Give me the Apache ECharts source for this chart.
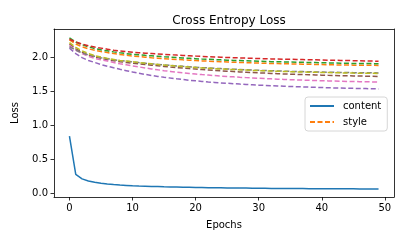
<!DOCTYPE html>
<html><head><meta charset="utf-8">
<script src="https://cdn.jsdelivr.net/npm/echarts@6/dist/echarts.min.js"></script>
<style>html,body{margin:0;padding:0;background:#fff}#c{width:407px;height:244px}</style>
</head><body><div id="c"></div>
<script>
const epochs = [0,1,2,3,4,5,6,7,8,9,10,11,12,13,14,15,16,17,18,19,20,21,22,23,24,25,26,27,28,29,30,31,32,33,34,35,36,37,38,39,40,41,42,43,44,45,46,47,48,49];
const xTicks = [0,10,20,30,40,50];
const yTicks = [0,0.5,1,1.5,2];
const content = [0.84,0.28,0.215,0.185,0.165,0.15,0.14,0.132,0.125,0.12,0.115,0.111,0.108,0.105,0.102,0.099,0.097,0.095,0.093,0.091,0.089,0.088,0.086,0.085,0.084,0.083,0.082,0.081,0.080,0.079,0.078,0.077,0.076,0.076,0.075,0.074,0.074,0.073,0.072,0.072,0.071,0.071,0.070,0.070,0.069,0.069,0.068,0.068,0.067,0.067];
const style = [2.25,2.19,2.15,2.12,2.10,2.08,2.065,2.05,2.037,2.025,2.015,2.006,1.998,1.99,1.983,1.976,1.97,1.964,1.958,1.953,1.948,1.943,1.939,1.935,1.931,1.927,1.923,1.92,1.917,1.914,1.911,1.908,1.905,1.903,1.901,1.899,1.897,1.895,1.893,1.891,1.889,1.887,1.885,1.883,1.882,1.881,1.88,1.879,1.878,1.877];
const style2 = [2.28,2.22,2.18,2.15,2.125,2.105,2.09,2.075,2.062,2.05,2.04,2.032,2.024,2.017,2.01,2.003,1.997,1.991,1.985,1.98,1.975,1.97,1.966,1.962,1.958,1.954,1.95,1.947,1.944,1.941,1.938,1.935,1.932,1.93,1.928,1.926,1.924,1.922,1.92,1.918,1.916,1.914,1.912,1.91,1.908,1.906,1.905,1.904,1.903,1.902];
const style3 = [2.26,2.22,2.19,2.165,2.145,2.13,2.115,2.10,2.09,2.08,2.07,2.063,2.056,2.05,2.044,2.038,2.033,2.028,2.023,2.018,2.013,2.009,2.005,2.001,1.997,1.993,1.99,1.987,1.984,1.981,1.978,1.975,1.972,1.97,1.968,1.966,1.964,1.962,1.96,1.958,1.956,1.954,1.952,1.95,1.948,1.946,1.944,1.942,1.94,1.938];
const style4 = [2.13,2.05,1.99,1.95,1.92,1.89,1.865,1.842,1.82,1.80,1.78,1.762,1.745,1.73,1.716,1.703,1.691,1.68,1.67,1.66,1.651,1.643,1.635,1.628,1.621,1.615,1.609,1.603,1.598,1.593,1.588,1.584,1.58,1.576,1.572,1.568,1.565,1.562,1.559,1.556,1.553,1.55,1.547,1.545,1.543,1.541,1.539,1.537,1.535,1.533];
const style5 = [2.19,2.12,2.07,2.03,2.0,1.98,1.96,1.945,1.93,1.92,1.91,1.90,1.89,1.88,1.871,1.862,1.853,1.845,1.837,1.83,1.823,1.816,1.81,1.804,1.798,1.792,1.787,1.782,1.777,1.772,1.768,1.764,1.76,1.756,1.752,1.749,1.746,1.743,1.74,1.737,1.734,1.731,1.729,1.727,1.725,1.723,1.721,1.719,1.717,1.715];
const style6 = [2.17,2.10,2.05,2.01,1.98,1.96,1.94,1.92,1.90,1.885,1.87,1.855,1.84,1.825,1.812,1.80,1.789,1.778,1.768,1.758,1.75,1.742,1.735,1.728,1.721,1.715,1.709,1.703,1.698,1.693,1.688,1.684,1.68,1.676,1.672,1.668,1.665,1.662,1.659,1.656,1.653,1.65,1.647,1.645,1.643,1.641,1.639,1.637,1.635,1.633];
const style7 = [2.15,2.10,2.06,2.03,2.01,1.99,1.975,1.96,1.948,1.938,1.928,1.918,1.909,1.90,1.892,1.884,1.877,1.87,1.863,1.857,1.851,1.845,1.84,1.835,1.83,1.825,1.821,1.817,1.813,1.809,1.805,1.802,1.799,1.796,1.793,1.79,1.788,1.786,1.784,1.782,1.78,1.778,1.776,1.774,1.772,1.771,1.77,1.769,1.768,1.767];
const style8 = [2.21,2.14,2.09,2.05,2.02,2.0,1.98,1.965,1.95,1.94,1.93,1.92,1.91,1.90,1.891,1.882,1.874,1.866,1.859,1.852,1.846,1.84,1.835,1.83,1.825,1.82,1.816,1.812,1.808,1.804,1.80,1.797,1.794,1.791,1.788,1.785,1.782,1.78,1.778,1.776,1.774,1.772,1.77,1.768,1.766,1.764,1.763,1.762,1.761,1.76];

const FONT = 'DejaVu Sans';
const pair = arr => epochs.map((e,i)=>[e,arr[i]]);
const dashedSets = [
  ['style', style, '#ff7f0e'],
  ['style_2', style2, '#2ca02c'],
  ['style_3', style3, '#d62728'],
  ['style_4', style4, '#9467bd'],
  ['style_5', style5, '#8c564b'],
  ['style_6', style6, '#e377c2'],
  ['style_7', style7, '#7f7f7f'],
  ['style_8', style8, '#bcbd22']
];
const series = [{
  name:'content', type:'line', data: pair(content), showSymbol:false, symbol:'none',
  lineStyle:{color:'#1f77b4', width:1.5}, itemStyle:{color:'#1f77b4'}
}];
dashedSets.forEach(([n,arr,c])=>series.push({
  name:n, type:'line', data: pair(arr), showSymbol:false, symbol:'none',
  lineStyle:{color:c, width:1.5, type:[5,2.5]}, itemStyle:{color:c}
}));

const axisLineStyle = {color:'#000', width:0.8};
const chart = echarts.init(document.getElementById('c'), null, {renderer:'canvas'});
chart.setOption({
  animation:false,
  textStyle:{fontFamily:FONT},
  title:{text:'Cross Entropy Loss', left:224, top:10, textAlign:'center',
    textStyle:{fontFamily:FONT, fontSize:12, fontWeight:'normal', color:'#000'}},
  grid:{left:54, right:13, top:29, bottom:47},
  legend:{data:['content','style'], orient:'vertical', left:305, top:97,
    itemStyle:{opacity:0},
    padding:[4,6,4,4], itemGap:6, itemWidth:24, itemHeight:10,
    backgroundColor:'rgba(255,255,255,0.8)', borderColor:'#cccccc', borderWidth:0.8, borderRadius:3,
    textStyle:{fontFamily:FONT, fontSize:10, color:'#000', padding:[0,0,0,4]}},
  xAxis:[{type:'value', min:-2.45, max:51.45, name:'Epochs', nameLocation:'middle', nameGap:23,
    nameTextStyle:{fontFamily:FONT, fontSize:10, color:'#000'},
    axisLine:{show:true, onZero:false, lineStyle:axisLineStyle},
    axisTick:{show:true, length:3.5, lineStyle:axisLineStyle, customValues:xTicks},
    axisLabel:{fontFamily:FONT, fontSize:10, color:'#000', margin:6, customValues:xTicks},
    splitLine:{show:false}},
   {type:'value', position:'top', min:-2.45, max:51.45,
    axisLine:{show:true, onZero:false, lineStyle:axisLineStyle},
    axisTick:{show:false}, axisLabel:{show:false}, splitLine:{show:false}}],
  yAxis:[{type:'value', min:-0.05, max:2.41, name:'Loss', nameLocation:'middle', nameGap:34, nameRotate:90,
    nameTextStyle:{fontFamily:FONT, fontSize:10, color:'#000'},
    axisLine:{show:true, onZero:false, lineStyle:axisLineStyle},
    axisTick:{show:true, length:3.5, lineStyle:axisLineStyle, customValues:yTicks},
    axisLabel:{fontFamily:FONT, fontSize:10, color:'#000', margin:6, customValues:yTicks,
      formatter:v=>v.toFixed(1)},
    splitLine:{show:false}},
   {type:'value', position:'right', min:-0.05, max:2.41,
    axisLine:{show:true, onZero:false, lineStyle:axisLineStyle},
    axisTick:{show:false}, axisLabel:{show:false}, splitLine:{show:false}}],
  series:series
});
</script></body></html>
